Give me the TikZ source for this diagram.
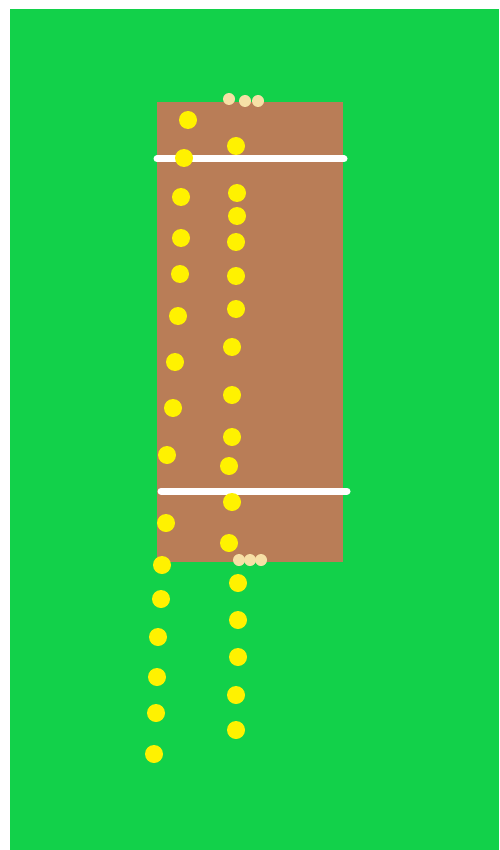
\documentclass[tikz,border=0pt]{standalone}
\begin{document}
\begin{tikzpicture}[x=1pt, y=-1pt]
            % Khung
            \useasboundingbox (0, 0) rectangle (499, 850);
            \fill[white] (0, 0) rectangle (499, 850);
            % Sân cỏ
            \fill[green!70!black!60!green, fill={rgb,255:red,18;green,209;blue,74}] (10, 9) rectangle (499, 850);
            % Mặt sân pitch
            \fill[fill={rgb,255:red,185;green,125;blue,87}] (156.5, 102) rectangle (343, 562);
            % Vạch crease
            \draw[white, line width=7pt, line cap=round] (157, 159) -- (344, 159);
            \draw[white, line width=7pt, line cap=round] (161, 491) -- (347, 491);
            % Cọc gôn
            \foreach \x/\y in {229/99, 245/101, 258/101, 239/560, 250/560, 261/560}
                \fill[fill={rgb,255:red,246;green,224;blue,166}] (\x, \y) circle (6);
            % Bóng (cột trái)
            \foreach \x/\y in {188/120, 184/158, 181/197, 181/238, 180/274, 178/316, 175/362, 173/408, 167/455, 166/523, 162/565, 161/599, 158/637, 157/677, 156/713, 154/754}
                \fill[yellow] (\x, \y) circle (9);
            % Bóng (cột phải)
            \foreach \x/\y in {236/146, 237/193, 237/216, 236/242, 236/276, 236/309, 232/347, 232/395, 232/437, 229/466, 232/502, 229/543, 238/583, 238/620, 238/657, 236/695, 236/730}
                \fill[yellow] (\x, \y) circle (9);
\end{tikzpicture}
\end{document}
